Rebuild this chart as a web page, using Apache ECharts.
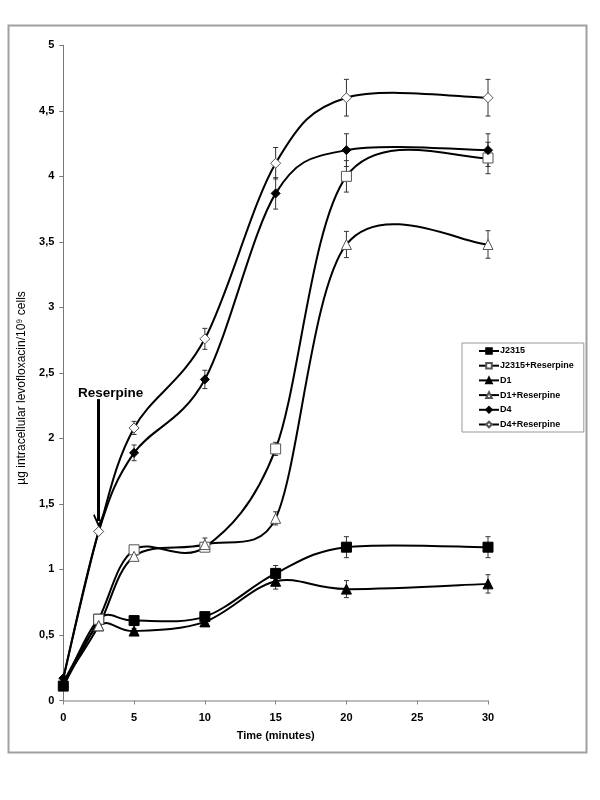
<!DOCTYPE html>
<html>
<head>
<meta charset="utf-8">
<script src="https://cdn.jsdelivr.net/npm/echarts@6/dist/echarts.min.js"></script>
<style>
  html, body { margin: 0; padding: 0; background: #fff; }
  #chart { width: 600px; height: 800px; }
</style>
</head>
<body>
<div id="chart"></div>
<script>
// Time points (minutes)
const timePoints = [0, 2.5, 5, 10, 15, 20, 30];

// Series values (µg intracellular levofloxacin / 10^9 cells)
const j2315      = [0.11, 0.62, 0.61, 0.64, 0.97, 1.17, 1.17];
const j2315Res   = [0.11, 0.62, 1.15, 1.17, 1.92, 4.00, 4.14];
const d1         = [0.14, 0.57, 0.53, 0.60, 0.91, 0.85, 0.89];
const d1Res      = [0.14, 0.57, 1.10, 1.19, 1.39, 3.48, 3.48];
const d4         = [0.17, 1.29, 1.89, 2.45, 3.87, 4.20, 4.20];
const d4Res      = [0.17, 1.29, 2.08, 2.76, 4.10, 4.60, 4.60];

// Error bar half-widths
const j2315Err    = [0, 0, 0.03, 0.03, 0.06, 0.08, 0.08];
const j2315ResErr = [0, 0, 0.03, 0.03, 0.05, 0.12, 0.12];
const d1Err       = [0, 0, 0.02, 0.03, 0.06, 0.065, 0.07];
const d1ResErr    = [0, 0, 0.03, 0.05, 0.05, 0.10, 0.105];
const d4Err       = [0, 0, 0.06, 0.07, 0.12, 0.125, 0.125];
const d4ResErr    = [0, 0, 0.05, 0.08, 0.12, 0.14, 0.14];

const seriesNames = ['J2315', 'J2315+Reserpine', 'D1', 'D1+Reserpine', 'D4', 'D4+Reserpine'];
const xTicks = [0, 5, 10, 15, 20, 25, 30];
const yTicks = [0, 0.5, 1, 1.5, 2, 2.5, 3, 3.5, 4, 4.5, 5];

// Annotation: reserpine added at 2.5 min
const reserpineTime = 2.5;
const reserpineArrowFrom = 2.30;
const reserpineArrowTo = 1.37;

const defs = [
  { name: seriesNames[0], vals: j2315,    err: j2315Err,    symbol: 'rect',     size: 10, fill: '#000', hideFirst: false },
  { name: seriesNames[1], vals: j2315Res, err: j2315ResErr, symbol: 'rect',     size: 10, fill: '#fff', hideFirst: true },
  { name: seriesNames[2], vals: d1,       err: d1Err,       symbol: 'triangle', size: 10, fill: '#000', hideFirst: false },
  { name: seriesNames[3], vals: d1Res,    err: d1ResErr,    symbol: 'triangle', size: 10, fill: '#fff', hideFirst: true },
  { name: seriesNames[4], vals: d4,       err: d4Err,       symbol: 'diamond',  size: 9,  fill: '#000', hideFirst: false },
  { name: seriesNames[5], vals: d4Res,    err: d4ResErr,    symbol: 'diamond',  size: 10, fill: '#fff', hideFirst: true }
];

const chart = echarts.init(document.getElementById('chart'), null, { renderer: 'canvas' });

const series = [];

// error bars (bottom layer)
defs.forEach(function (d) {
  series.push({
    type: 'custom',
    name: d.name + '_err',
    silent: true,
    z: 1,
    encode: { x: 0, y: [1, 2] },
    data: timePoints.map(function (t, i) { return [t, d.vals[i] - d.err[i], d.vals[i] + d.err[i]]; })
      .filter(function (p) { return p[2] - p[1] > 0; }),
    renderItem: function (params, api) {
      const lo = api.coord([api.value(0), api.value(1)]);
      const hi = api.coord([api.value(0), api.value(2)]);
      const cw = 2.5;
      const style = { stroke: '#333', lineWidth: 1 };
      return {
        type: 'group',
        children: [
          { type: 'line', shape: { x1: lo[0], y1: lo[1], x2: hi[0], y2: hi[1] }, style: style },
          { type: 'line', shape: { x1: lo[0] - cw, y1: lo[1], x2: lo[0] + cw, y2: lo[1] }, style: style },
          { type: 'line', shape: { x1: hi[0] - cw, y1: hi[1], x2: hi[0] + cw, y2: hi[1] }, style: style }
        ]
      };
    }
  });
});

// tangent offset: (next - prev)/6, capped at half the segment length
function ctrlOffset(prev, next, a, b) {
  let ox = (next[0] - prev[0]) / 6, oy = (next[1] - prev[1]) / 6;
  const len = Math.sqrt(ox * ox + oy * oy);
  const segHalf = Math.sqrt((b[0] - a[0]) * (b[0] - a[0]) + (b[1] - a[1]) * (b[1] - a[1])) / 2;
  if (len > segHalf && len > 0) { ox *= segHalf / len; oy *= segHalf / len; }
  return [ox, oy];
}

// smoothed curves (spreadsheet-style bezier segments)
defs.forEach(function (d) {
  const n = timePoints.length;
  const segs = [];
  for (let i = 0; i < n - 1; i++) {
    const ip = Math.max(i - 1, 0), in2 = Math.min(i + 2, n - 1);
    segs.push([timePoints[i], d.vals[i], timePoints[i + 1], d.vals[i + 1],
               timePoints[ip], d.vals[ip], timePoints[in2], d.vals[in2]]);
  }
  series.push({
    type: 'custom',
    name: d.name + '_curve',
    silent: true,
    z: 2,
    encode: { x: [0, 2, 4, 6], y: [1, 3, 5, 7] },
    data: segs,
    renderItem: function (params, api) {
      const p1 = api.coord([api.value(0), api.value(1)]);
      const p2 = api.coord([api.value(2), api.value(3)]);
      const p0 = api.coord([api.value(4), api.value(5)]);
      const p3 = api.coord([api.value(6), api.value(7)]);
      const o1 = ctrlOffset(p0, p2, p1, p2);
      const o2 = ctrlOffset(p1, p3, p1, p2);
      return {
        type: 'bezierCurve',
        shape: {
          x1: p1[0], y1: p1[1], x2: p2[0], y2: p2[1],
          cpx1: p1[0] + o1[0], cpy1: p1[1] + o1[1],
          cpx2: p2[0] - o2[0], cpy2: p2[1] - o2[1]
        },
        style: { stroke: '#000', lineWidth: 2, fill: 'none' }
      };
    }
  });
});

// markers (line series with hidden line; used by the legend)
defs.forEach(function (d, idx) {
  const s = {
    type: 'line',
    name: d.name,
    z: 3 + idx,
    symbol: d.symbol,
    symbolSize: d.size,
    showAllSymbol: true,
    lineStyle: { color: '#000', width: 2, opacity: 0 },
    itemStyle: { color: d.fill, borderColor: d.fill === '#fff' ? '#555' : '#000', borderWidth: 1, opacity: 1 },
    emphasis: { disabled: true },
    data: timePoints.map(function (t, i) {
      const item = { value: [t, d.vals[i]] };
      if (d.hideFirst && i === 0) item.symbol = 'none';
      return item;
    })
  };
  if (idx === 5) {
    s.markLine = {
      silent: true,
      animation: false,
      symbol: ['none', 'path://M0,0 L6,8 L4.6,9 L0,3 L-4.6,9 L-6,8 Z'],
      symbolSize: [11, 14],
      lineStyle: { color: '#000', width: 3, type: 'solid', opacity: 1 },
      label: {
        show: true,
        position: 'start',
        distance: -1,
        formatter: 'Reserpine',
        fontFamily: 'Liberation Sans, Arial, sans-serif',
        fontWeight: 'bold',
        fontSize: 13.5,
        color: '#000',
        padding: [0, 0, 0, 24]
      },
      data: [[
        { coord: [reserpineTime, reserpineArrowFrom] },
        { coord: [reserpineTime, reserpineArrowTo] }
      ]]
    };
  }
  series.push(s);
});

const font = 'Liberation Sans, Arial, sans-serif';

chart.setOption({
  animation: false,
  backgroundColor: '#fff',
  graphic: [{
    type: 'rect',
    shape: { x: 8.5, y: 25.5, width: 578, height: 727 },
    style: { fill: 'none', stroke: '#a0a0a0', lineWidth: 2 },
    silent: true,
    z: -1
  }],
  grid: { left: 63.3, right: 112, top: 45.3, bottom: 99.5, containLabel: false },
  legend: {
    orient: 'vertical',
    left: 462,
    top: 343,
    data: seriesNames,
    itemWidth: 20,
    itemHeight: 7,
    itemGap: 5.7,
    padding: [3.5, 10, 3, 16],
    backgroundColor: '#fff',
    borderColor: '#999',
    borderWidth: 1,
    borderRadius: 0,
    selectedMode: false,
    lineStyle: { color: '#000', width: 2, opacity: 1 },
    textStyle: { fontFamily: font, fontSize: 9, lineHeight: 9, fontWeight: 'bold', color: '#000', padding: [0, 0, 0, -4] }
  },
  xAxis: {
    type: 'value',
    min: 0, max: 30, interval: 5,
    name: 'Time (minutes)',
    nameLocation: 'middle',
    nameGap: 30,
    nameTextStyle: { fontFamily: font, fontSize: 11, fontWeight: 'bold', color: '#000' },
    axisLine: { show: true, onZero: false, lineStyle: { color: '#a8a8a8', width: 1.5 } },
    axisTick: { show: true, length: 4, lineStyle: { color: '#888' } },
    axisLabel: {
      fontFamily: font, fontSize: 11, fontWeight: 'bold', color: '#000', margin: 12,
      formatter: function (v) { return xTicks.indexOf(v) >= 0 ? String(v) : ''; }
    },
    splitLine: { show: false }
  },
  yAxis: {
    type: 'value',
    min: 0, max: 5, interval: 0.5,
    name: 'µg intracellular levofloxacin/10⁹ cells',
    nameLocation: 'middle',
    nameGap: 32,
    nameTextStyle: { fontFamily: font, fontSize: 12, color: '#000', padding: [0, 30, 0, 0] },
    axisLine: { show: true, lineStyle: { color: '#777', width: 1 } },
    axisTick: { show: true, length: 4, lineStyle: { color: '#777' } },
    axisLabel: {
      fontFamily: font, fontSize: 11, fontWeight: 'bold', color: '#000', margin: 9,
      formatter: function (v) { return yTicks.indexOf(v) >= 0 ? String(v).replace('.', ',') : ''; }
    },
    splitLine: { show: false }
  },
  series: series
});
</script>
</body>
</html>
